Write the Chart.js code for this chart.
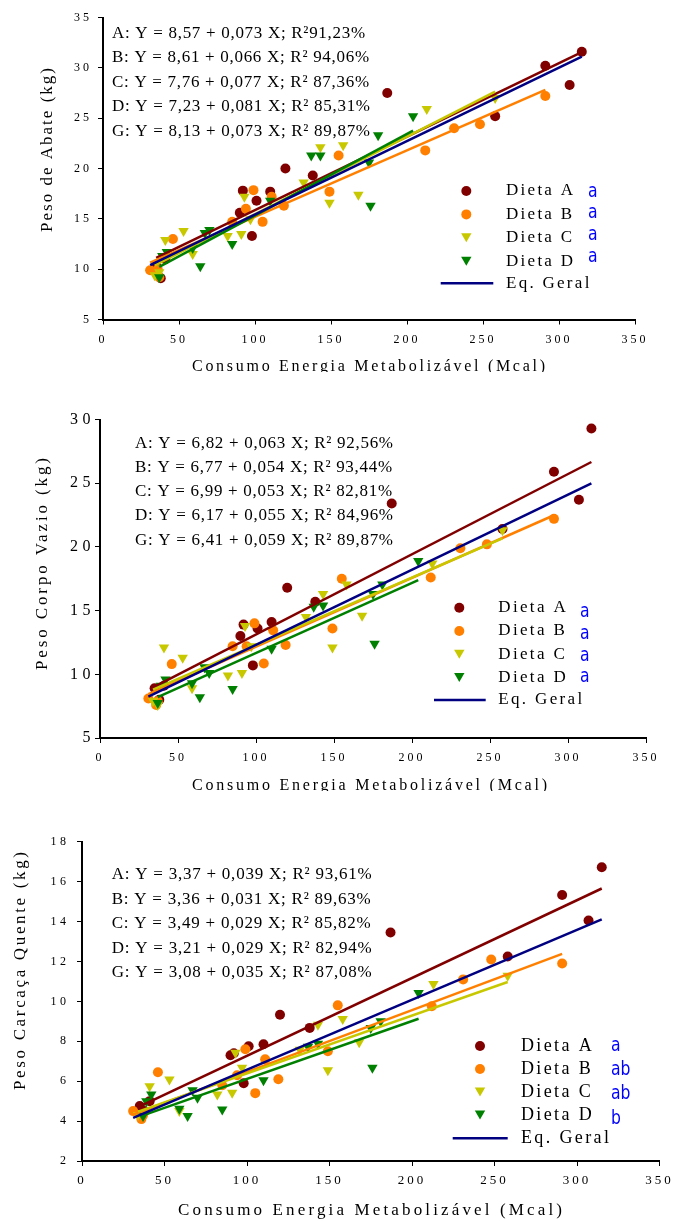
<!DOCTYPE html>
<html>
<head>
<meta charset="utf-8">
<script src="https://cdn.jsdelivr.net/npm/chart.js@4"></script>
<style>
  html, body { margin: 0; padding: 0; background: #fff; }
  body { width: 673px; height: 1221px; position: relative; overflow: hidden; }
  canvas { position: absolute; left: 0; }
</style>
</head>
<body>
<canvas id="abate" width="673" height="372" style="top:0px"></canvas>
<canvas id="vazio" width="673" height="391" style="top:400px"></canvas>
<canvas id="carcaca" width="673" height="401" style="top:820px"></canvas>
<script>
// Consumo de energia metabolizável (Mcal) de cada animal, por dieta
const consumoA = [35, 38, 41, 90, 92, 98, 101, 110, 120, 138, 187, 258, 291, 307, 315];
const consumoB = [31, 36, 37, 46, 85, 94, 99, 105, 111, 119, 149, 155, 212, 231, 248, 291];
const consumoC = [34, 37, 41, 53, 59, 82, 91, 93, 97, 132, 143, 149, 158, 168, 213, 258];
const consumoD = [37, 39, 42, 59, 64, 67, 70, 85, 110, 137, 143, 175, 176, 181, 204];

// Peso de abate (kg)
const abateA = [10.3, 9.1, 11.0, 15.6, 17.8, 13.3, 16.8, 17.7, 20.0, 19.3, 27.5, 25.2, 30.2, 28.3, 31.6];
const abateB = [9.9, 10.0, 9.2, 13.0, 14.7, 16.0, 17.85, 14.7, 17.2, 16.3, 17.7, 21.3, 21.8, 24.0, 24.4, 27.2];
const abateC = [9.4, 9.7, 12.9, 13.8, 11.5, 13.3, 13.5, 17.2, 14.95, 18.6, 22.1, 16.6, 22.3, 17.4, 25.9, 27.0];
const abateD = [9.2, 11.3, 11.7, 12.1, 10.3, 13.6, 13.9, 12.5, 16.8, 21.3, 21.3, 20.6, 16.3, 23.3, 25.2];

// Peso de corpo vazio (kg)
const vazioA = [8.9, 8.0, 9.1, 13.0, 13.9, 10.7, 13.6, 14.1, 16.8, 15.7, 23.4, 21.4, 25.9, 23.7, 29.3];
const vazioB = [8.1, 7.6, 7.9, 10.8, 12.2, 12.2, 14.0, 10.85, 13.45, 12.3, 13.6, 17.5, 17.6, 19.9, 20.2, 22.2];
const vazioC = [7.9, 7.6, 12.1, 11.3, 8.9, 9.9, 10.1, 13.8, 12.2, 14.5, 16.3, 12.1, 17.05, 14.6, 18.7, 21.3];
const vazioD = [7.75, 9.1, 9.6, 9.3, 8.2, 10.55, 10.1, 8.85, 12.0, 15.3, 15.4, 16.3, 12.4, 17.05, 18.9];

// Peso de carcaça quente (kg)
const carcacaA = [4.75, 4.5, 5.0, 7.3, 7.4, 5.9, 7.75, 7.85, 9.33, 8.67, 13.45, 12.25, 15.33, 14.05, 16.72];
const carcacaB = [4.5, 4.1, 4.3, 6.45, 5.8, 6.3, 7.6, 5.4, 7.1, 6.1, 7.5, 9.8, 9.75, 11.1, 12.1, 11.9];
const carcacaC = [4.3, 4.4, 5.75, 6.08, 4.5, 5.33, 5.42, 7.42, 6.67, 7.58, 8.83, 6.55, 9.12, 7.95, 10.87, 11.28];
const carcacaD = [4.25, 5.0, 5.33, 4.62, 4.25, 5.55, 5.17, 4.58, 6.05, 7.72, 7.88, 8.67, 6.67, 9.0, 10.42];

// Equações de regressão: dietas A, B, C, D e geral (G)
const abateIntercept = [8.57, 8.61, 7.76, 7.23, 8.13];
const abateSlope = [0.073, 0.066, 0.077, 0.081, 0.073];
const abateR2 = [91.23, 94.06, 87.36, 85.31, 89.87];
const vazioIntercept = [6.82, 6.77, 6.99, 6.17, 6.41];
const vazioSlope = [0.063, 0.054, 0.053, 0.055, 0.059];
const vazioR2 = [92.56, 93.44, 82.81, 84.96, 89.87];
const carcacaIntercept = [3.37, 3.36, 3.49, 3.21, 3.08];
const carcacaSlope = [0.039, 0.031, 0.029, 0.029, 0.035];
const carcacaR2 = [93.61, 89.63, 85.82, 82.94, 87.08];

// Letras de comparação entre dietas
const abateSig = ['a', 'a', 'a', 'a'];
const vazioSig = ['a', 'a', 'a', 'a'];
const carcacaSig = ['a', 'ab', 'ab', 'b'];

// Marcas dos eixos
const xTicks = [0, 50, 100, 150, 200, 250, 300, 350];
const abateTicks = [5, 10, 15, 20, 25, 30, 35];
const vazioTicks = [5, 10, 15, 20, 25, 30];
const carcacaTicks = [2, 4, 6, 8, 10, 12, 14, 16, 18];

const dietas = ['Dieta A', 'Dieta B', 'Dieta C', 'Dieta D'];
const eqLetters = ['A', 'B', 'C', 'D', 'G'];
const xTitle = 'Consumo Energia Metabolizável (Mcal)';

const SERIF = '"Liberation Serif", "Times New Roman", serif';
const colors = ['#800000', '#ff8000', '#c8c800', '#008000', '#000080'];
const consumo = [consumoA, consumoB, consumoC, consumoD];

const fmt = (v, d) => v.toFixed(d).replace('.', ',');

function buildDatasets(ys, intercept, slope) {
  const out = [];
  const all = consumo.flat();
  const ranges = consumo.map(xs => [Math.min(...xs), Math.max(...xs)]);
  ranges.push([Math.min(...all), Math.max(...all)]);
  const lineOrder = [4, 3, 2, 1, 0];
  ranges.forEach(([x0, x1], i) => {
    out.push({
      label: 'Eq. ' + eqLetters[i],
      data: [x0, x1].map(x => ({ x, y: intercept[i] + slope[i] * x })),
      showLine: true,
      borderColor: colors[i],
      borderWidth: 2.5,
      pointRadius: 0,
      pointHoverRadius: 0,
      order: lineOrder[i]
    });
  });
  consumo.forEach((xs, i) => {
    const tri = i >= 2;
    out.push({
      label: dietas[i],
      data: xs.map((x, j) => ({ x, y: ys[i][j] })),
      showLine: false,
      pointStyle: tri ? 'triangle' : 'circle',
      pointRotation: tri ? 180 : 0,
      pointRadius: tri ? 6 : 5,
      pointHoverRadius: tri ? 6 : 5,
      pointBackgroundColor: colors[i],
      pointBorderColor: colors[i],
      pointBorderWidth: 0,
      order: 8 - i
    });
  });
  return out;
}

function spacingFor(ctx, text, width) {
  ctx.letterSpacing = '0px';
  const w = ctx.measureText(text).width;
  return (width - w) / ([...text].length - 1);
}

function marker(ctx, i, x, y) {
  ctx.fillStyle = colors[i];
  ctx.beginPath();
  if (i < 2) {
    ctx.arc(x, y, 5, 0, 2 * Math.PI);
  } else {
    const r = 6, yc = y - 1.5;
    ctx.moveTo(x, yc + r);
    ctx.lineTo(x - r * 0.866, yc - r / 2);
    ctx.lineTo(x + r * 0.866, yc - r / 2);
    ctx.closePath();
  }
  ctx.fill();
}

// Equations, legend and axis titles drawn over each panel
function decor(P) {
  return {
    id: 'decor',
    afterDraw(chart) {
      const ctx = chart.ctx;
      ctx.save();
      ctx.fillStyle = '#000';
      ctx.textAlign = 'left';
      ctx.textBaseline = 'middle';

      ctx.font = `${P.eqSize}px ${SERIF}`;
      const lines = eqLetters.map((l, i) =>
        `${l}: Y = ${fmt(P.intercept[i], 2)} + ${fmt(P.slope[i], 3)} X; R²${P.r2Sep[i]}${fmt(P.r2[i], 2)}%`);
      const sp = spacingFor(ctx, lines[4], P.eqWidth);
      ctx.letterSpacing = sp + 'px';
      lines.forEach((t, i) => ctx.fillText(t, P.eqX, P.eqY + i * P.eqDy));

      ctx.font = `${P.legSize}px ${SERIF}`;
      const lsp = spacingFor(ctx, dietas[0], P.legTextW);
      ctx.letterSpacing = lsp + 'px';
      dietas.forEach((d, i) => {
        const y = P.legY + i * P.legDy;
        marker(ctx, i, P.legMarkX, y);
        ctx.fillStyle = '#000';
        ctx.fillText(d, P.legTextX, y);
      });
      ctx.strokeStyle = colors[4];
      ctx.lineWidth = 2.5;
      ctx.beginPath();
      ctx.moveTo(P.legLineX0, P.legLineY);
      ctx.lineTo(P.legLineX1, P.legLineY);
      ctx.stroke();
      ctx.fillStyle = '#000';
      ctx.fillText('Eq. Geral', P.legTextX, P.legLineY);

      ctx.letterSpacing = '0px';
      ctx.fillStyle = '#0000ff';
      ctx.font = '20px "DejaVu Sans", sans-serif';
      ctx.textBaseline = 'alphabetic';
      P.sig.forEach((s, i) => {
        ctx.save();
        ctx.translate(P.sigX, P.sigY + i * P.sigDy + 5.5);
        ctx.scale(0.78, 1);
        ctx.fillText(s, 0, 0);
        ctx.restore();
      });

      ctx.fillStyle = '#000';
      ctx.font = `${P.yTitleSize}px ${SERIF}`;
      const ysp = spacingFor(ctx, P.yTitle, P.yTitleLen);
      ctx.save();
      ctx.letterSpacing = ysp + 'px';
      ctx.translate(P.yTitleX, P.yTitleY);
      ctx.rotate(-Math.PI / 2);
      ctx.textBaseline = 'middle';
      ctx.fillText(P.yTitle, -P.yTitleLen / 2, 0);
      ctx.restore();

      ctx.font = `${P.xTitleSize}px ${SERIF}`;
      const xsp = spacingFor(ctx, xTitle, P.xTitleW);
      ctx.letterSpacing = xsp + 'px';
      ctx.textBaseline = 'alphabetic';
      ctx.fillText(xTitle, P.xTitleX - P.xTitleW / 2, P.xTitleBase);

      ctx.restore();
    }
  };
}

function spacedLabels(s, sp) {
  if (s._spaced) return;
  const draw = s.drawLabels;
  s.drawLabels = function (area) {
    const ctx = this.ctx;
    ctx.save();
    ctx.letterSpacing = sp + 'px';
    draw.call(this, area);
    ctx.restore();
  };
  s._spaced = true;
}
const zeroPad = s => { s.paddingLeft = s.paddingRight = s.paddingTop = s.paddingBottom = 0; };

function makeChart(id, P) {
  const yT = P.yTicks;
  return new Chart(document.getElementById(id), {
    type: 'scatter',
    data: { datasets: buildDatasets(P.ys, P.intercept, P.slope) },
    options: {
      responsive: false,
      animation: false,
      devicePixelRatio: 1,
      events: [],
      layout: { padding: { left: 0, top: P.top, right: 673 - P.right, bottom: 0 } },
      plugins: { legend: { display: false }, tooltip: { enabled: false } },
      scales: {
        x: {
          type: 'linear',
          min: xTicks[0],
          max: xTicks[xTicks.length - 1],
          afterBuildTicks: s => { s.ticks = xTicks.map(v => ({ value: v })); },
          ticks: { font: { family: SERIF, size: P.xTickSize }, color: '#000', padding: P.xPad, maxRotation: 0, autoSkip: false },
          grid: { drawOnChartArea: false, tickLength: 5, color: '#000', lineWidth: 1 },
          border: { color: '#000', width: 2 },
          afterFit: s => { s.height = P.height - P.bottom; zeroPad(s); spacedLabels(s, P.xTickSp); }
        },
        y: {
          type: 'linear',
          min: yT[0],
          max: yT[yT.length - 1],
          afterBuildTicks: s => { s.ticks = yT.map(v => ({ value: v })); },
          ticks: { font: { family: SERIF, size: P.yTickSize }, color: '#000', padding: P.yPad, autoSkip: false },
          grid: { drawOnChartArea: false, tickLength: 5, color: '#000', lineWidth: 1 },
          border: { color: '#000', width: 2 },
          afterFit: s => { s.width = P.left; zeroPad(s); spacedLabels(s, P.yTickSp); }
        }
      }
    },
    plugins: [decor(P)]
  });
}

makeChart('abate', {
  ys: [abateA, abateB, abateC, abateD], intercept: abateIntercept, slope: abateSlope, r2: abateR2,
  r2Sep: ['', ' ', ' ', ' ', ' '], sig: abateSig, yTicks: abateTicks,
  height: 372, left: 103, right: 635, top: 17.5, bottom: 319.5,
  xTickSize: 12, xTickSp: 3, xPad: 8, yTickSize: 12, yTickSp: 3, yPad: 6,
  eqSize: 17, eqX: 112, eqY: 33.5, eqDy: 24.5, eqWidth: 258,
  legSize: 17, legMarkX: 466.3, legY: 191, legDy: 23.4, legTextX: 506, legTextW: 67,
  legLineY: 283.3, legLineX0: 440.7, legLineX1: 493.3,
  sigX: 588, sigY: 191, sigDy: 21.9,
  yTitle: 'Peso de Abate (kg)', yTitleSize: 17, yTitleX: 47.5, yTitleY: 150, yTitleLen: 164,
  xTitleSize: 16, xTitleX: 368.5, xTitleBase: 370.5, xTitleW: 353
});

makeChart('vazio', {
  ys: [vazioA, vazioB, vazioC, vazioD], intercept: vazioIntercept, slope: vazioSlope, r2: vazioR2,
  r2Sep: [' ', ' ', ' ', ' ', ' '], sig: vazioSig, yTicks: vazioTicks,
  height: 391, left: 100, right: 646, top: 19.5, bottom: 338,
  xTickSize: 12, xTickSp: 3, xPad: 8, yTickSize: 16, yTickSp: 4.5, yPad: 0,
  eqSize: 17, eqX: 135, eqY: 43.3, eqDy: 24.2, eqWidth: 258,
  legSize: 17, legMarkX: 459.3, legY: 207.7, legDy: 23.3, legTextX: 498.3, legTextW: 67.4,
  legLineY: 300, legLineX0: 434, legLineX1: 485.7,
  sigX: 580, sigY: 211.7, sigDy: 21.7,
  yTitle: 'Peso Corpo Vazio (kg)', yTitleSize: 17, yTitleX: 43, yTitleY: 164, yTitleLen: 212,
  xTitleSize: 16, xTitleX: 369.5, xTitleBase: 390, xTitleW: 355
});

makeChart('carcaca', {
  ys: [carcacaA, carcacaB, carcacaC, carcacaD], intercept: carcacaIntercept, slope: carcacaSlope, r2: carcacaR2,
  r2Sep: [' ', ' ', ' ', ' ', ' '], sig: carcacaSig, yTicks: carcacaTicks,
  height: 401, left: 82, right: 659.5, top: 21.7, bottom: 341,
  xTickSize: 13, xTickSp: 3, xPad: 7, yTickSize: 12, yTickSp: 3.5, yPad: 7.5,
  eqSize: 17, eqX: 111.7, eqY: 55, eqDy: 24.4, eqWidth: 260,
  legSize: 18, legMarkX: 480, legY: 226, legDy: 23, legTextX: 521, legTextW: 70.7,
  legLineY: 318.3, legLineX0: 452.7, legLineX1: 507.7,
  sigX: 611, sigY: 225, sigDy: 24.4,
  yTitle: 'Peso Carcaça Quente (kg)', yTitleSize: 17, yTitleX: 21, yTitleY: 151, yTitleLen: 238,
  xTitleSize: 17, xTitleX: 370, xTitleBase: 394.5, xTitleW: 384
});
</script>
</body>
</html>
